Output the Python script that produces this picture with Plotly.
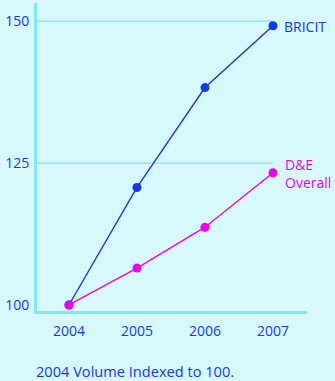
import plotly.graph_objects as go

years = [2004, 2005, 2006, 2007]
bricit = [100, 120.7, 138.3, 149.2]
de_overall = [100, 106.5, 113.7, 123.3]
y_ticks = [100, 125, 150]
x_tick_labels = ["2004", "2005", "2006", "2007"]

BLUE = "#1238f2"
MAG = "#ee00ee"
BG = "#d7f9fe"
AXC = "#82e6f6"
FONT = "Open Sans"

fig = go.Figure()
fig.add_trace(go.Scatter(x=years, y=bricit, mode="lines+markers",
                         line=dict(color=BLUE, width=1.4),
                         marker=dict(color=BLUE, size=9), showlegend=False))
fig.add_trace(go.Scatter(x=years, y=de_overall, mode="lines+markers",
                         line=dict(color=MAG, width=1.4),
                         marker=dict(color=MAG, size=9), showlegend=False))

xr = [2003.53, 2007.5]
for t in y_ticks[1:]:
    fig.add_shape(type="line", xref="x", yref="y", x0=xr[0], x1=years[-1], y0=t, y1=t,
                  line=dict(color=AXC, width=1.2), layer="below")

fig.add_annotation(x=years[-1], y=bricit[-1], text="BRICIT", showarrow=False,
                   xanchor="left", xshift=9, yshift=-1, font=dict(color=BLUE, size=14, family=FONT))
fig.add_annotation(x=years[-1], y=de_overall[-1], text="D&E<br>Overall", showarrow=False,
                   xanchor="left", yanchor="middle", align="left", xshift=10, yshift=-1,
                   font=dict(color=MAG, size=14, family=FONT))
fig.add_annotation(x=0, y=-0.155, xref="paper", yref="paper", text="2004 Volume Indexed to 100.",
                   showarrow=False, xanchor="left", yanchor="top", xshift=-3,
                   font=dict(color=BLUE, size=14.6, family=FONT))

fig.update_layout(
    width=335, height=381,
    margin=dict(l=37, r=28, t=3, b=70),
    paper_bgcolor=BG, plot_bgcolor=BG,
    font=dict(family=FONT, color=BLUE, size=14),
    xaxis=dict(range=xr, tickvals=years, ticktext=x_tick_labels, showgrid=False,
               zeroline=False, showline=True, linecolor=AXC, linewidth=3, ticks="",
               ticklabelstandoff=5),
    yaxis=dict(range=[98.94, 153.2], tickvals=y_ticks, showgrid=False, zeroline=False,
               showline=True, linecolor=AXC, linewidth=3, ticks="", ticklabelstandoff=2),
)
fig.write_html("out.html")
